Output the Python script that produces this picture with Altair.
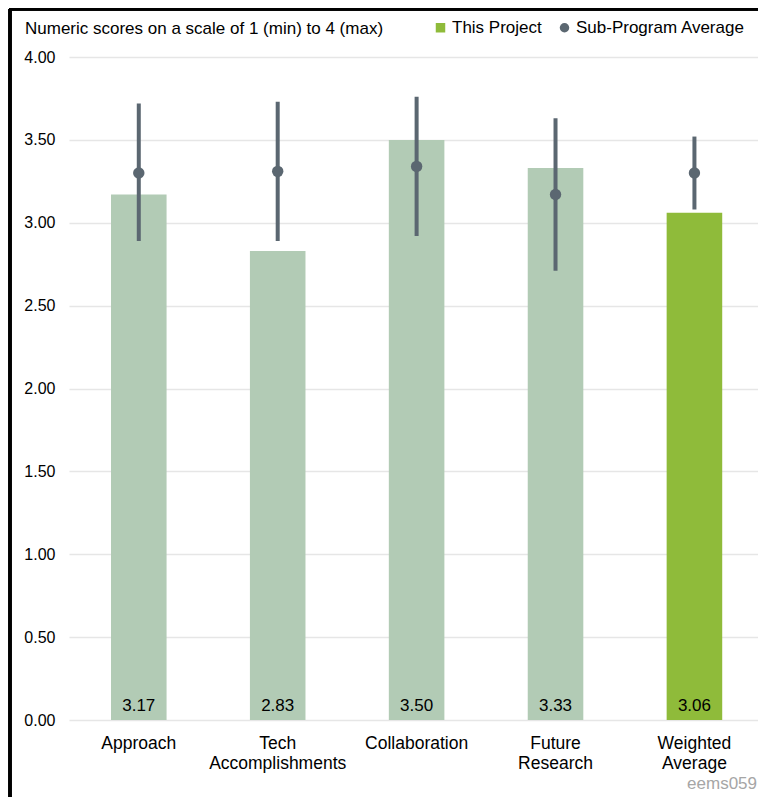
import altair as alt
import pandas as pd

categories = ["Approach", "Tech Accomplishments", "Collaboration", "Future Research", "Weighted Average"]
project_scores = [3.17, 2.83, 3.50, 3.33, 3.06]
subprogram_avg = [3.30, 3.31, 3.34, 3.17, 3.30]
avg_low = [2.89, 2.89, 2.92, 2.71, 3.08]
avg_high = [3.72, 3.73, 3.76, 3.63, 3.52]
bar_series = ["Criterion", "Criterion", "Criterion", "Criterion", "This Project"]
y_ticks = [0, 0.5, 1, 1.5, 2, 2.5, 3, 3.5, 4]
title_text = "Numeric scores on a scale of 1 (min) to 4 (max)"
tag_text = "eems059"

LIGHT = "#b2cbb5"
GREEN = "#8fbb3a"
GRAY = "#5b6771"
FONT = "Liberation Sans"

df = pd.DataFrame({
    "cat": categories,
    "project": project_scores,
    "avg": subprogram_avg,
    "lo": avg_low,
    "hi": avg_high,
    "series": bar_series,
})

domain = ["This Project", "Sub-Program Average", "Criterion"]
color_scale = alt.Scale(domain=domain, range=[GREEN, GRAY, LIGHT])
shape_scale = alt.Scale(domain=domain, range=["square", "circle", "square"])
legend = alt.Legend(
    title=None, values=["This Project", "Sub-Program Average"], orient="none",
    direction="horizontal", legendX=363, legendY=-38, labelFont=FONT,
    labelFontSize=17, labelColor="#000000", symbolSize=90, symbolStrokeWidth=0,
    labelOffset=3, columnPadding=14, padding=0, labelLimit=400,
)

x = alt.X(
    "cat:N", sort=categories, title=None,
    scale=alt.Scale(paddingInner=0.6, paddingOuter=0.28, align=0.54),
    axis=alt.Axis(labelAngle=0, domain=False, ticks=False, labelFont=FONT,
                  labelFontSize=17.5, labelColor="#000000", labelPadding=14,
                  labelLineHeight=20, labelExpr="split(datum.value, ' ')"),
)
y_scale = alt.Scale(domain=[0, 4], nice=False)

base = alt.Chart(df)

bars = base.mark_bar().encode(
    x=x,
    y=alt.Y("project:Q", scale=y_scale, title=None,
            axis=alt.Axis(values=y_ticks, format=".2f", domain=False, ticks=False,
                          labelFont=FONT, labelFontSize=16,
                          labelColor="#000000", labelPadding=14,
                          gridColor="#e6e6e6", gridWidth=1.5)),
    color=alt.Color("series:N", scale=color_scale, legend=legend),
)

labels = base.mark_text(font=FONT, fontSize=17, color="#000000",
                        baseline="alphabetic", dy=-9).encode(
    x=alt.X("cat:N", sort=categories),
    y=alt.datum(0),
    text=alt.Text("project:Q", format=".2f"),
)

errs = base.mark_rule(strokeWidth=4, color=GRAY).encode(
    x=alt.X("cat:N", sort=categories),
    y=alt.Y("lo:Q"),
    y2="hi:Q",
)

points = base.transform_calculate(series="'Sub-Program Average'").mark_point(
    filled=True, size=130, opacity=1).encode(
    x=alt.X("cat:N", sort=categories),
    y=alt.Y("avg:Q"),
    color=alt.Color("series:N", scale=color_scale, legend=legend),
    shape=alt.Shape("series:N", scale=shape_scale, legend=legend),
)

border_left = alt.Chart(df).mark_rule(color="#000000", strokeWidth=3).encode(
    x=alt.value(-59), y=alt.value(-48), y2=alt.value(760))
border_top = alt.Chart(df).mark_rule(color="#000000", strokeWidth=3).encode(
    x=alt.value(-60), x2=alt.value(694), y=alt.value(-48))

title = alt.Chart(pd.DataFrame({"t": [title_text]})).mark_text(
    font=FONT, fontSize=17, color="#000000", align="left",
    baseline="middle").encode(x=alt.value(-44), y=alt.value(-28), text="t:N")

tag = alt.Chart(pd.DataFrame({"t": [tag_text]})).mark_text(
    font=FONT, fontSize=17, color="#a6a6a6", align="right",
    baseline="middle").encode(x=alt.value(688), y=alt.value(727), text="t:N")

chart = alt.layer(bars, labels, errs, points, border_left, border_top, title, tag).properties(
    width=689, height=663,
    autosize=alt.AutoSizeParams(type="none"),
    padding={"left": 61, "top": 49, "right": 0, "bottom": 77},
).configure_view(strokeWidth=0)

chart.save("out.html", embed_options={"renderer": "svg", "actions": False})
